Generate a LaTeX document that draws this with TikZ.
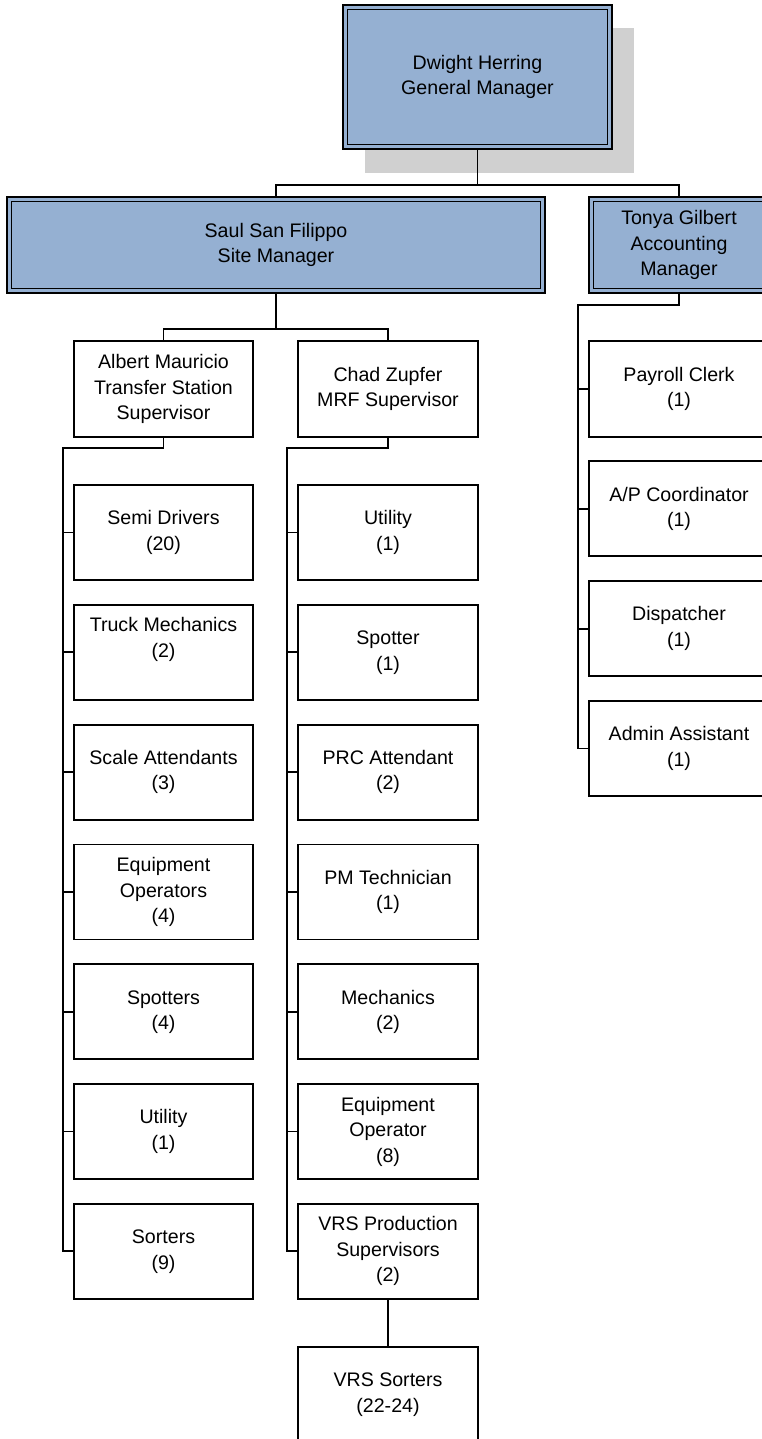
\documentclass[tikz,border=0pt]{standalone}
\usepackage{fontspec}
\setmainfont{Liberation Sans}
\usetikzlibrary{calc}
\definecolor{mgrblue}{RGB}{149,176,210}
\definecolor{shadowgray}{RGB}{208,208,208}
\pgfdeclarelayer{bg}
\pgfsetlayers{bg,main}
\newcommand{\twoln}[2]{\strut #1\\\strut #2}
\newcommand{\thrln}[3]{\strut #1\\\strut #2\\\strut #3}
\tikzset{
  conn/.style={draw=black, line width=1.8pt},
  unitbox/.style={draw=black, fill=white, line width=1.8pt, rectangle, inner sep=0pt, outer sep=0pt,
    align=center, font=\fontsize{19.6}{25.5}\selectfont, minimum width=180pt, minimum height=95pt},
  mgrbox/.style={unitbox, fill=mgrblue},
  innerline/.style={draw=black, line width=1.3pt},
}
\begin{document}
\begin{tikzpicture}[x=1pt,y=-1pt]
\useasboundingbox (0,0) rectangle (762,1439);
\clip (0,0) rectangle (762,1439);

% managers
\node[mgrbox, minimum width=269pt, minimum height=144pt] (d) at (477.5,77) {\twoln{Dwight Herring}{General Manager}};
\node[mgrbox, minimum width=538pt, minimum height=96pt] (s) at (276,245) {\twoln{Saul San Filippo}{Site Manager}};
\node[mgrbox, minimum width=180pt, minimum height=96pt] (t) at (679,245) {\thrln{Tonya Gilbert}{Accounting}{Manager}};
\foreach \n in {d,s,t}
  \draw[innerline] ($(\n.south west)+(4.5pt,4.5pt)$) rectangle ($(\n.north east)-(4.5pt,4.5pt)$);
\begin{pgfonlayer}{bg}
  \fill[shadowgray] ($(d.north west)+(22pt,-23pt)$) rectangle ($(d.south east)+(22pt,-24pt)$);
\end{pgfonlayer}

% supervisors
\node[unitbox, minimum width=179pt, minimum height=96pt] (a) at (163.5,389) {\thrln{Albert Mauricio}{Transfer Station}{Supervisor}};
\node[unitbox, minimum height=96pt] (c) at (388,389) {\twoln{Chad Zupfer}{MRF Supervisor}};

% left column
\node[unitbox, minimum width=179pt] (l1) at (163.5,532.5) {\twoln{Semi Drivers}{(20)}};
\node[unitbox, minimum width=179pt] (l2) at (163.5,652.3) {\thrln{Truck Mechanics}{(2)}{}};
\node[unitbox, minimum width=179pt] (l3) at (163.5,772.1) {\twoln{Scale Attendants}{(3)}};
\node[unitbox, minimum width=179pt] (l4) at (163.5,891.9) {\thrln{Equipment}{Operators}{(4)}};
\node[unitbox, minimum width=179pt] (l5) at (163.5,1011.7) {\twoln{Spotters}{(4)}};
\node[unitbox, minimum width=179pt] (l6) at (163.5,1131.5) {\twoln{Utility}{(1)}};
\node[unitbox, minimum width=179pt] (l7) at (163.5,1251.3) {\twoln{Sorters}{(9)}};

% middle column
\node[unitbox] (m1) at (388,532.5) {\twoln{Utility}{(1)}};
\node[unitbox] (m2) at (388,652.3) {\twoln{Spotter}{(1)}};
\node[unitbox] (m3) at (388,772.1) {\twoln{PRC Attendant}{(2)}};
\node[unitbox] (m4) at (388,891.9) {\twoln{PM Technician}{(1)}};
\node[unitbox] (m5) at (388,1011.7) {\twoln{Mechanics}{(2)}};
\node[unitbox] (m6) at (388,1131.5) {\thrln{Equipment}{Operator}{(8)}};
\node[unitbox] (m7) at (388,1251.3) {\thrln{VRS Production}{Supervisors}{(2)}};
\node[unitbox] (m8) at (388,1394.5) {\twoln{VRS Sorters}{(22-24)}};

% right column
\node[unitbox, minimum height=96pt] (r1) at (679,389) {\twoln{Payroll Clerk}{(1)}};
\node[unitbox] (r2) at (679,508.8) {\twoln{A/P Coordinator}{(1)}};
\node[unitbox] (r3) at (679,628.6) {\twoln{Dispatcher}{(1)}};
\node[unitbox] (r4) at (679,748.4) {\twoln{Admin Assistant}{(1)}};

% connectors
\coordinate (bus1) at (0,185);
\draw[conn] (d.south) -- (d.south |- bus1);
\draw[conn] (s.north) -- (s.north |- bus1) -- (t.north |- bus1) -- (t.north);

\coordinate (bus2) at (0,329);
\draw[conn] (s.south) -- (s.south |- bus2);
\draw[conn] (a.north) -- (a.north |- bus2) -- (c.north |- bus2) -- (c.north);

\coordinate (ltr) at (63,448);
\draw[conn] (a.south) -- (a.south |- ltr) -- (ltr) -- (ltr |- l7.west) -- (l7.west);
\foreach \i in {1,...,6} \draw[conn] (ltr |- l\i.west) -- (l\i.west);

\coordinate (mtr) at (287,448);
\draw[conn] (c.south) -- (c.south |- mtr) -- (mtr) -- (mtr |- m7.west) -- (m7.west);
\foreach \i in {1,...,6} \draw[conn] (mtr |- m\i.west) -- (m\i.west);
\draw[conn] (m7.south) -- (m8.north);

\coordinate (rtr) at (578,305);
\draw[conn] (t.south) -- (t.south |- rtr) -- (rtr) -- (rtr |- r4.west) -- (r4.west);
\foreach \i in {1,...,3} \draw[conn] (rtr |- r\i.west) -- (r\i.west);
\end{tikzpicture}
\end{document}
